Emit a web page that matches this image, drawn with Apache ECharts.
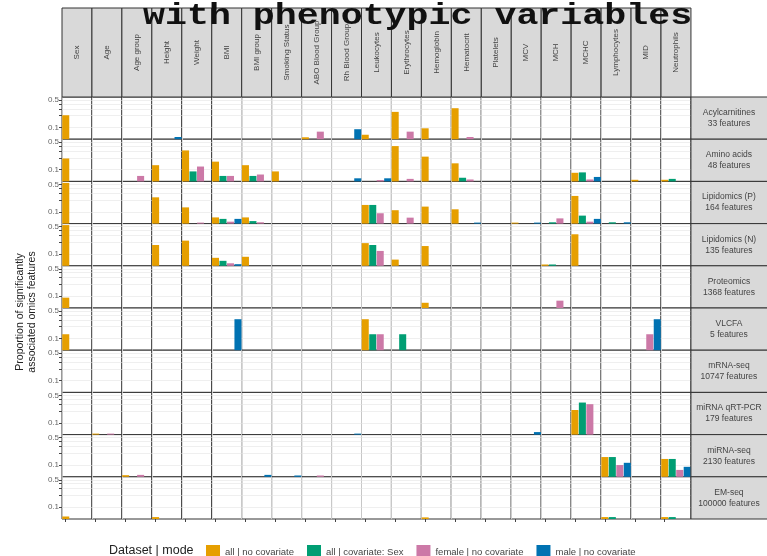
<!DOCTYPE html>
<html>
<head>
<meta charset="utf-8">
<script src="https://cdn.jsdelivr.net/npm/echarts@6/dist/echarts.min.js"></script>
<style>
  html, body { margin: 0; padding: 0; background: #fff; }
  #chart { width: 767px; height: 556px; }
</style>
</head>
<body>
<div id="chart"></div>
<script>
var _ = null; // no bar in this panel

// facet columns (phenotypic variables)
var phenotypes = ["Sex", "Age", "Age group", "Height", "Weight", "BMI", "BMI group",
  "Smoking Status", "ABO Blood Group", "Rh Blood Group", "Leukocytes", "Erythrocytes",
  "Hemoglobin", "Hematocrit", "Platelets", "MCV", "MCH", "MCHC", "Lymphocytes", "MID", "Neutrophils"];

// facet rows (omics layers)
var omics = ["Acylcarnitines\n33 features", "Amino acids\n48 features", "Lipidomics (P)\n164 features",
  "Lipidomics (N)\n135 features", "Proteomics\n1368 features", "VLCFA\n5 features",
  "mRNA-seq\n10747 features", "miRNA qRT-PCR\n179 features", "miRNA-seq\n2130 features",
  "EM-seq\n100000 features"];

var models = ["all | no covariate", "all | covariate: Sex", "female | no covariate", "male | no covariate"];

var yTickLabels = [0.1, 0.5];
var yTicks = [0.1, 0.2, 0.3, 0.4, 0.5];

// proportion of significant features, one row per omics layer, one column per phenotype
var allNoCov = [
  [0.205, _, _, _, _, _, _, _, 0.056, _, 0.065, 0.25, 0.095, 0.31, _, _, _, _, _, _, _],
  [0.193, _, _, 0.13, 0.31, 0.16, 0.13, 0.09, _, _, _, 0.40, 0.215, 0.145, _, _, _, 0.083, _, 0.055, 0.055],
  [0.55, _, _, 0.235, 0.13, 0.072, 0.072, _, _, _, 0.15, 0.11, 0.136, 0.116, _, 0.053, _, 0.255, _, _, _],
  [0.55, _, _, 0.17, 0.22, 0.08, 0.085, _, _, _, 0.19, 0.072, 0.16, _, _, _, 0.054, 0.32, _, _, _],
  [0.092, _, _, _, _, _, _, _, _, _, _, _, 0.068, _, _, _, _, _, _, _, _],
  [0.128, _, _, _, _, _, _, _, _, _, 0.31, _, _, _, _, _, _, _, _, _, _],
  [_, _, _, _, _, _, _, _, _, _, _, _, _, _, _, _, _, _, _, _, _],
  [_, 0.053, _, _, _, _, _, _, _, _, _, _, _, _, _, _, _, 0.213, _, _, _],
  [_, _, 0.055, _, _, _, _, _, _, _, _, _, _, _, _, _, _, _, 0.16, _, 0.143],
  [0.058, _, _, 0.056, _, _, _, _, _, _, _, _, 0.055, _, _, _, _, _, 0.056, _, 0.056]
];
var allCovSex = [
  [_, _, _, _, _, _, _, _, _, _, _, _, _, _, _, _, _, _, _, _, _],
  [_, _, _, _, 0.09, 0.069, 0.069, _, _, _, _, _, _, 0.062, _, _, _, 0.085, _, _, 0.058],
  [_, _, _, _, _, 0.066, 0.058, _, _, _, 0.15, _, _, _, _, _, 0.054, 0.08, 0.054, _, _],
  [_, _, _, _, _, 0.067, _, _, _, _, 0.17, _, _, _, _, _, 0.054, _, _, _, _],
  [_, _, _, _, _, _, _, _, _, _, _, _, _, _, _, _, _, _, _, _, _],
  [_, _, _, _, _, _, _, _, _, _, 0.128, 0.128, _, _, _, _, _, _, _, _, _],
  [_, _, _, _, _, _, _, _, _, _, _, _, _, _, _, _, _, _, _, _, _],
  [_, _, _, _, _, _, _, _, _, _, _, _, _, _, _, _, _, 0.33, _, _, _],
  [_, _, _, _, _, _, _, _, _, _, _, _, _, _, _, _, _, _, 0.16, _, 0.143],
  [_, _, _, _, _, _, _, _, _, _, _, _, _, _, _, _, _, _, 0.056, _, 0.056]
];
var femaleNoCov = [
  [_, _, _, _, _, _, _, _, 0.078, _, _, 0.078, _, 0.057, _, _, _, _, _, _, _],
  [_, _, 0.069, _, 0.12, 0.069, 0.075, _, _, _, 0.054, 0.058, _, 0.056, _, _, _, 0.056, _, _, _],
  [_, _, _, _, 0.053, 0.056, 0.054, _, _, _, 0.092, 0.071, _, _, _, _, 0.068, 0.056, _, _, _],
  [_, _, _, _, _, 0.058, _, _, _, _, 0.12, _, _, _, _, _, _, _, _, _, _],
  [_, _, _, _, _, _, _, _, _, _, _, _, _, _, _, _, 0.077, _, _, _, _],
  [_, _, _, _, _, _, _, _, _, _, 0.128, _, _, _, _, _, _, _, _, 0.128, _],
  [_, _, _, _, _, _, _, _, _, _, _, _, _, _, _, _, _, _, _, _, _],
  [_, 0.053, _, _, _, _, _, _, _, _, _, _, _, _, _, _, _, 0.30, _, _, _],
  [_, _, 0.056, _, _, _, _, _, 0.054, _, _, _, _, _, _, _, _, _, 0.10, _, 0.075],
  [_, _, _, _, _, _, _, _, _, _, _, _, _, _, _, _, _, _, _, _, _]
];
var maleNoCov = [
  [_, _, _, 0.057, _, _, _, _, _, 0.09, _, _, _, _, _, _, _, _, _, _, _],
  [_, _, _, _, _, _, _, _, _, 0.06, 0.06, _, _, _, _, _, _, 0.065, _, _, _],
  [_, _, _, _, _, 0.066, _, _, _, _, _, _, _, 0.053, _, 0.053, _, 0.066, 0.054, _, _],
  [_, _, _, _, _, 0.055, _, _, _, _, _, _, _, _, _, _, _, _, _, _, _],
  [_, _, _, _, _, _, _, _, _, _, _, _, _, _, _, _, _, _, _, _, _],
  [_, _, _, _, _, 0.31, _, _, _, _, _, _, _, _, _, _, _, _, _, 0.31, _],
  [_, _, _, _, _, _, _, _, _, _, _, _, _, _, _, _, _, _, _, _, _],
  [_, _, _, _, _, _, _, _, _, 0.053, _, _, _, _, _, 0.058, _, _, _, _, _],
  [_, _, _, _, _, _, 0.056, 0.054, _, _, _, _, _, _, _, _, _, _, 0.114, _, 0.09],
  [_, _, _, _, _, _, _, _, _, _, _, _, _, _, _, _, _, _, _, _, _]
];

var modelData = [allNoCov, allCovSex, femaleNoCov, maleNoCov];
var colors = ["#E69F00", "#009E73", "#CC79A7", "#0072B2"];

var panelLeft = 62, panelTop = 97, panelW = 29.95, panelH = 42.2;
var stripTop = 8, stripRightW = 80;

var myChart = echarts.init(document.getElementById("chart"), null, { renderer: "canvas" });

var grids = [], xAxes = [], yAxes = [], series = [], graphics = [];

for (var r = 0; r < omics.length; r++) {
  for (var c = 0; c < phenotypes.length; c++) {
    var idx = grids.length;
    grids.push({
      left: panelLeft + c * panelW,
      top: panelTop + r * panelH,
      width: panelW,
      height: panelH,
      show: true,
      backgroundColor: "#fff",
      borderColor: "#333",
      borderWidth: 1
    });
    xAxes.push({
      gridIndex: idx,
      type: "category",
      data: models,
      axisLine: { show: false },
      axisLabel: { show: false },
      axisTick: { show: r === omics.length - 1, alignWithLabel: true, length: 3, lineStyle: { color: "#444" } },
      splitLine: { show: true, lineStyle: { color: "#e4e4e4", width: 0.6 } }
    });
    yAxes.push({
      gridIndex: idx,
      type: "log",
      min: 0.05,
      max: 0.6,
      startValue: 0.05,
      axisLine: { show: false },
      axisTick: { show: c === 0, length: 3, customValues: yTicks, lineStyle: { color: "#444" } },
      axisLabel: {
        show: c === 0,
        customValues: yTickLabels,
        fontSize: 8,
        color: "#666",
        margin: 3,
        formatter: function (v) { return String(Math.round(v * 10) / 10); }
      },
      splitLine: { show: true, lineStyle: { color: "#e4e4e4", width: 0.6 } }
    });
    for (var m = 0; m < models.length; m++) {
      var d = [];
      for (var k = 0; k < models.length; k++) {
        var v = modelData[m][r][c];
        d.push(k === m && v !== null ? v : "-");
      }
      series.push({
        type: "bar",
        name: models[m],
        xAxisIndex: idx,
        yAxisIndex: idx,
        data: d,
        barGap: "-100%",
        barCategoryGap: "6%",
        itemStyle: { color: colors[m] },
        silent: true
      });
    }
  }
}

// column strips on top
phenotypes.forEach(function (name, c) {
  var x = panelLeft + c * panelW;
  graphics.push({
    type: "rect", z: 10,
    shape: { x: x, y: stripTop, width: panelW, height: panelTop - stripTop },
    style: { fill: "#d9d9d9", stroke: "#333", lineWidth: 1 }
  });
  graphics.push({
    type: "text", z: 11,
    x: x + panelW / 2, y: stripTop + (panelTop - stripTop) / 2,
    rotation: Math.PI / 2,
    style: {
      text: name, fill: "#444", font: "8px 'Liberation Sans', Arial, sans-serif",
      align: "center", verticalAlign: "middle",
      width: 84, overflow: "truncate", ellipsis: ""
    }
  });
});

// row strips on the right
omics.forEach(function (name, r) {
  var y = panelTop + r * panelH;
  var x = panelLeft + phenotypes.length * panelW;
  graphics.push({
    type: "rect", z: 10,
    shape: { x: x, y: y, width: stripRightW, height: panelH },
    style: { fill: "#d9d9d9", stroke: "#333", lineWidth: 1 }
  });
  graphics.push({
    type: "text", z: 11,
    x: x + 38, y: y + panelH / 2,
    style: {
      text: name, fill: "#444", font: "8.5px 'Liberation Sans', Arial, sans-serif",
      align: "center", verticalAlign: "middle", lineHeight: 11
    }
  });
});

// y axis title
graphics.push({
  type: "text", z: 11,
  x: 26, y: 312,
  rotation: Math.PI / 2,
  style: {
    text: "Proportion of significantly\nassociated omics features",
    fill: "#222", font: "10.5px 'Liberation Sans', Arial, sans-serif",
    align: "center", verticalAlign: "middle", lineHeight: 12
  }
});

// chart title (bottom line of a larger title), stretched wide like the reference
graphics.push({
  type: "text", z: 20,
  x: 143, y: 16,
  scaleX: 1.22,
  style: {
    text: "with phenotypic variables",
    fill: "#111", font: "bold 30px 'Liberation Mono', 'DejaVu Sans Mono', monospace",
    align: "left", verticalAlign: "middle"
  }
});

var option = {
  animation: false,
  title: [{
    text: "Dataset | mode",
    left: 104, top: 539,
    textStyle: { fontSize: 12.5, fontWeight: "normal", color: "#222", fontFamily: "Liberation Sans" }
  }],
  legend: {
    data: models,
    left: 201, top: 540,
    icon: "rect",
    itemWidth: 14, itemHeight: 14, itemGap: 13,
    textStyle: { fontSize: 9.5, color: "#444", fontFamily: "Liberation Sans" }
  },
  grid: grids,
  xAxis: xAxes,
  yAxis: yAxes,
  series: series,
  graphic: graphics
};

myChart.setOption(option);

window.addEventListener("resize", function () {
  myChart.resize();
});
</script>
</body>
</html>
